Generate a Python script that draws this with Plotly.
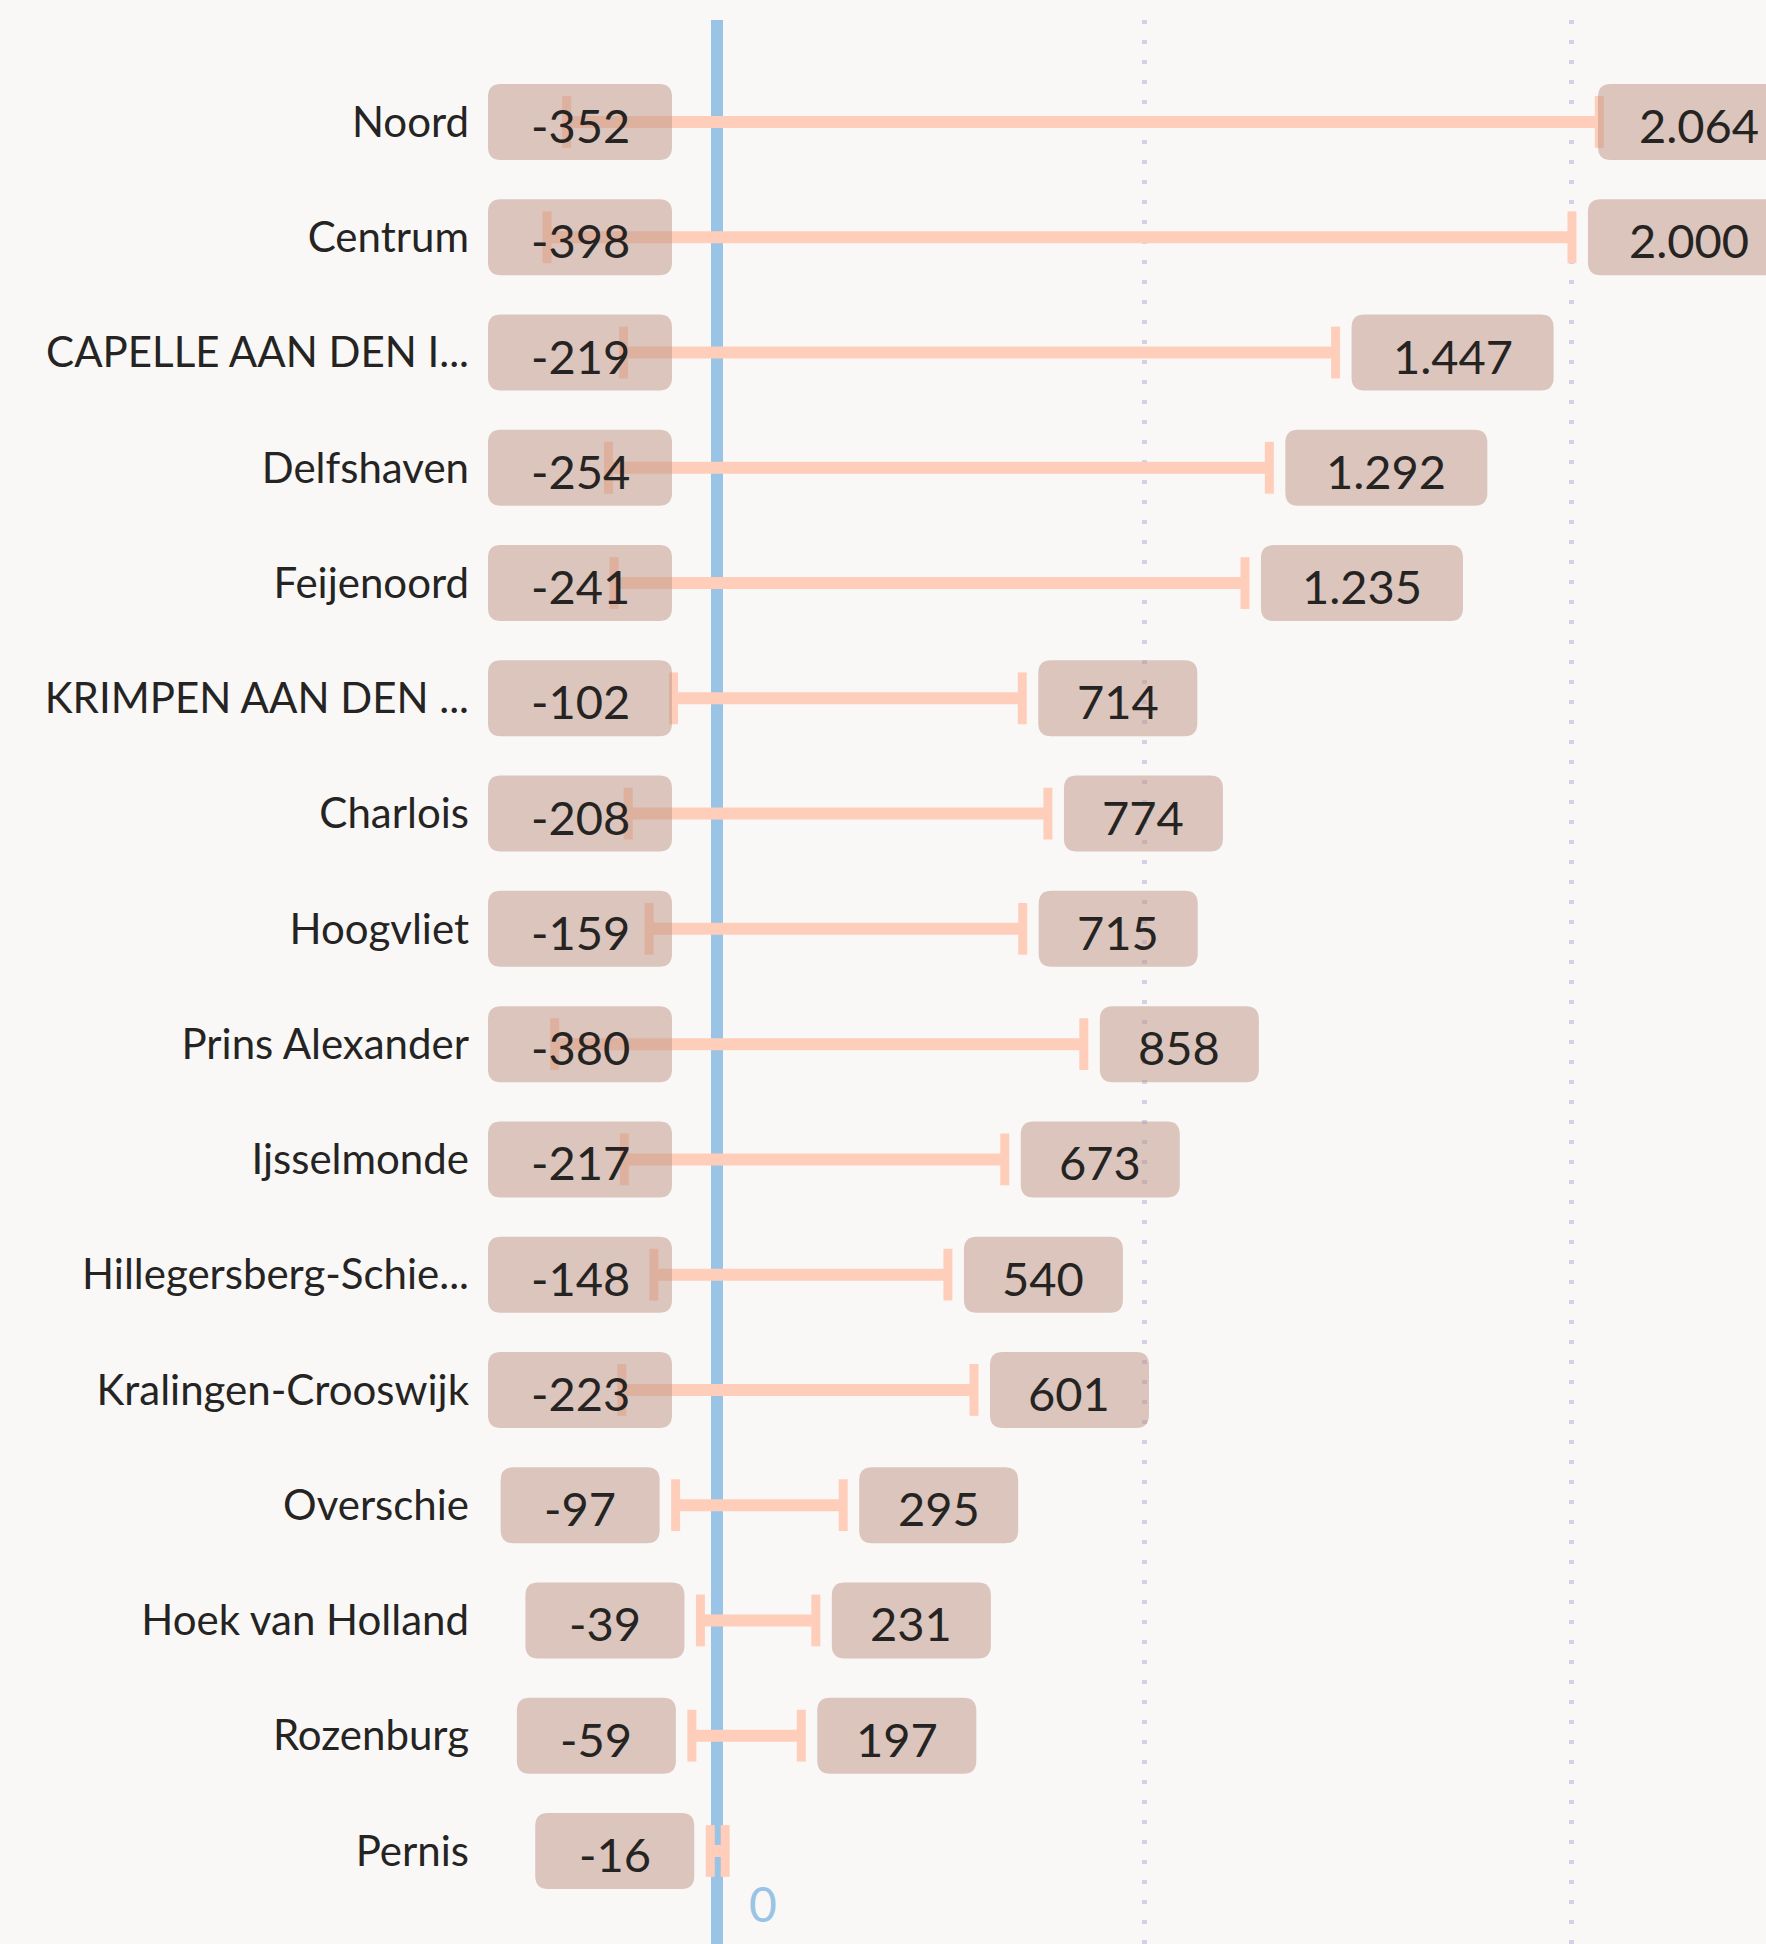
import plotly.graph_objects as go

# --- data ---
districts = [
    "Noord", "Centrum", "CAPELLE AAN DEN I...", "Delfshaven", "Feijenoord",
    "KRIMPEN AAN DEN ...", "Charlois", "Hoogvliet", "Prins Alexander",
    "Ijsselmonde", "Hillegersberg-Schie...", "Kralingen-Crooswijk",
    "Overschie", "Hoek van Holland", "Rozenburg", "Pernis",
]
low_values = [-352, -398, -219, -254, -241, -102, -208, -159, -380, -217,
              -148, -223, -97, -39, -59, -16]
high_values = [2064, 2000, 1447, 1292, 1235, 714, 774, 715, 858, 673,
               540, 601, 295, 231, 197, 19]
low_labels = ["-352", "-398", "-219", "-254", "-241", "-102", "-208", "-159",
              "-380", "-217", "-148", "-223", "-97", "-39", "-59", "-16"]
high_labels = ["2.064", "2.000", "1.447", "1.292", "1.235", "714", "774", "715",
               "858", "673", "540", "601", "295", "231", "197", ""]
grid_vals = [0, 1000, 2000]
grid_text = ["0", "", ""]

# --- style ---
COLORS = {
    "bg": "#F9F8F7",
    "range": "#FFCEBA",
    "box": "rgba(190,146,130,0.5)",
    "zero": "#9AC4E5",
    "grid": "#D3D0E8",
    "text": "#252423",
}
FONT = "Segoe UI, Lato, sans-serif"
W, H = 1766, 1944
MARGIN = dict(l=488, r=0, t=20, b=0)
X_RANGE = [-536, 2454]
Y_RANGE = [len(districts) - 1 + 0.807, -0.885]
GAP = 16
OVERHANG = 34  # labels may run a little past the right edge
BOX_H = 76
BOX_W = {3: 159, 4: 184, 5: 202}


def rounded_box(x0, x1, h, r=13):
    """Path for a rounded rectangle, pixel offsets around the anchor."""
    y0, y1 = -h / 2, h / 2
    return (
        f"M {x0 + r},{y0} L {x1 - r},{y0} Q {x1},{y0} {x1},{y0 + r} "
        f"L {x1},{y1 - r} Q {x1},{y1} {x1 - r},{y1} L {x0 + r},{y1} "
        f"Q {x0},{y1} {x0},{y1 - r} L {x0},{y0 + r} Q {x0},{y0} {x0 + r},{y0} Z"
    )


def label_box(xref, xanchor, x0, w, name, text):
    shape = dict(
        type="path", xref=xref, yref="y", xsizemode="pixel", ysizemode="pixel",
        xanchor=xanchor, yanchor=name, path=rounded_box(x0, x0 + w, BOX_H),
        fillcolor=COLORS["box"], line=dict(width=0), layer="above",
    )
    ann = dict(
        x=xanchor, y=name, xref=xref, yref="y", text=text,
        showarrow=False, xanchor="center", xshift=x0 + w / 2, yshift=-3,
        font=dict(size=47, color=COLORS["text"], family=FONT),
    )
    return shape, ann


# range segments with caps at both ends
xs, ys = [], []
for name, lo, hi in zip(districts, low_values, high_values):
    xs += [lo, hi, None]
    ys += [name, name, None]

fig = go.Figure()
fig.add_trace(
    go.Scatter(
        x=xs,
        y=ys,
        mode="lines+markers",
        line=dict(color=COLORS["range"], width=12),
        marker=dict(symbol="line-ns", size=37,
                    line=dict(color=COLORS["range"], width=9)),
        hoverinfo="skip",
        showlegend=False,
    )
)

plot_w = W - MARGIN["l"] - MARGIN["r"]
px_per_unit = plot_w / (X_RANGE[1] - X_RANGE[0])

shapes, annotations = [], []
for i, name in enumerate(districts):
    # low label, kept inside the plot area on the left
    w = BOX_W[len(low_labels[i])]
    left_px = (low_values[i] - X_RANGE[0]) * px_per_unit - GAP - w
    if left_px < 0:
        s, a = label_box("paper", 0, 0, w, name, low_labels[i])
    else:
        s, a = label_box("x", low_values[i], -GAP - w, w, name, low_labels[i])
    shapes.append(s)
    annotations.append(a)

    # high label
    if high_labels[i]:
        w = BOX_W[len(high_labels[i])]
        right_px = (high_values[i] - X_RANGE[0]) * px_per_unit + GAP + w
        if right_px > plot_w + OVERHANG:
            s, a = label_box("paper", 1, OVERHANG - w, w, name, high_labels[i])
        else:
            s, a = label_box("x", high_values[i], GAP, w, name, high_labels[i])
        shapes.append(s)
        annotations.append(a)

fig.update_layout(
    width=W,
    height=H,
    margin=MARGIN,
    paper_bgcolor=COLORS["bg"],
    plot_bgcolor=COLORS["bg"],
    shapes=shapes,
    annotations=annotations,
    showlegend=False,
)
fig.update_xaxes(
    range=X_RANGE,
    tickvals=grid_vals,
    ticktext=grid_text,
    showgrid=True,
    gridcolor=COLORS["grid"],
    gridwidth=5,
    griddash="4px,16px",
    zeroline=True,
    zerolinecolor=COLORS["zero"],
    zerolinewidth=12,
    showline=False,
    ticks="",
    ticklabelposition="inside right",
    ticklabelstandoff=6,
    ticklabelshift=32,
    tickfont=dict(size=48, color=COLORS["zero"], family=FONT),
)
fig.update_yaxes(
    type="category",
    categoryorder="array",
    categoryarray=districts,
    range=Y_RANGE,
    showgrid=False,
    zeroline=False,
    showline=False,
    ticks="",
    ticklabelstandoff=18,
    tickfont=dict(size=42, color=COLORS["text"], family=FONT),
)

fig.write_html(
    "out.html",
    config={"displayModeBar": False},
    post_script="document.body.style.margin='0px';",
)
